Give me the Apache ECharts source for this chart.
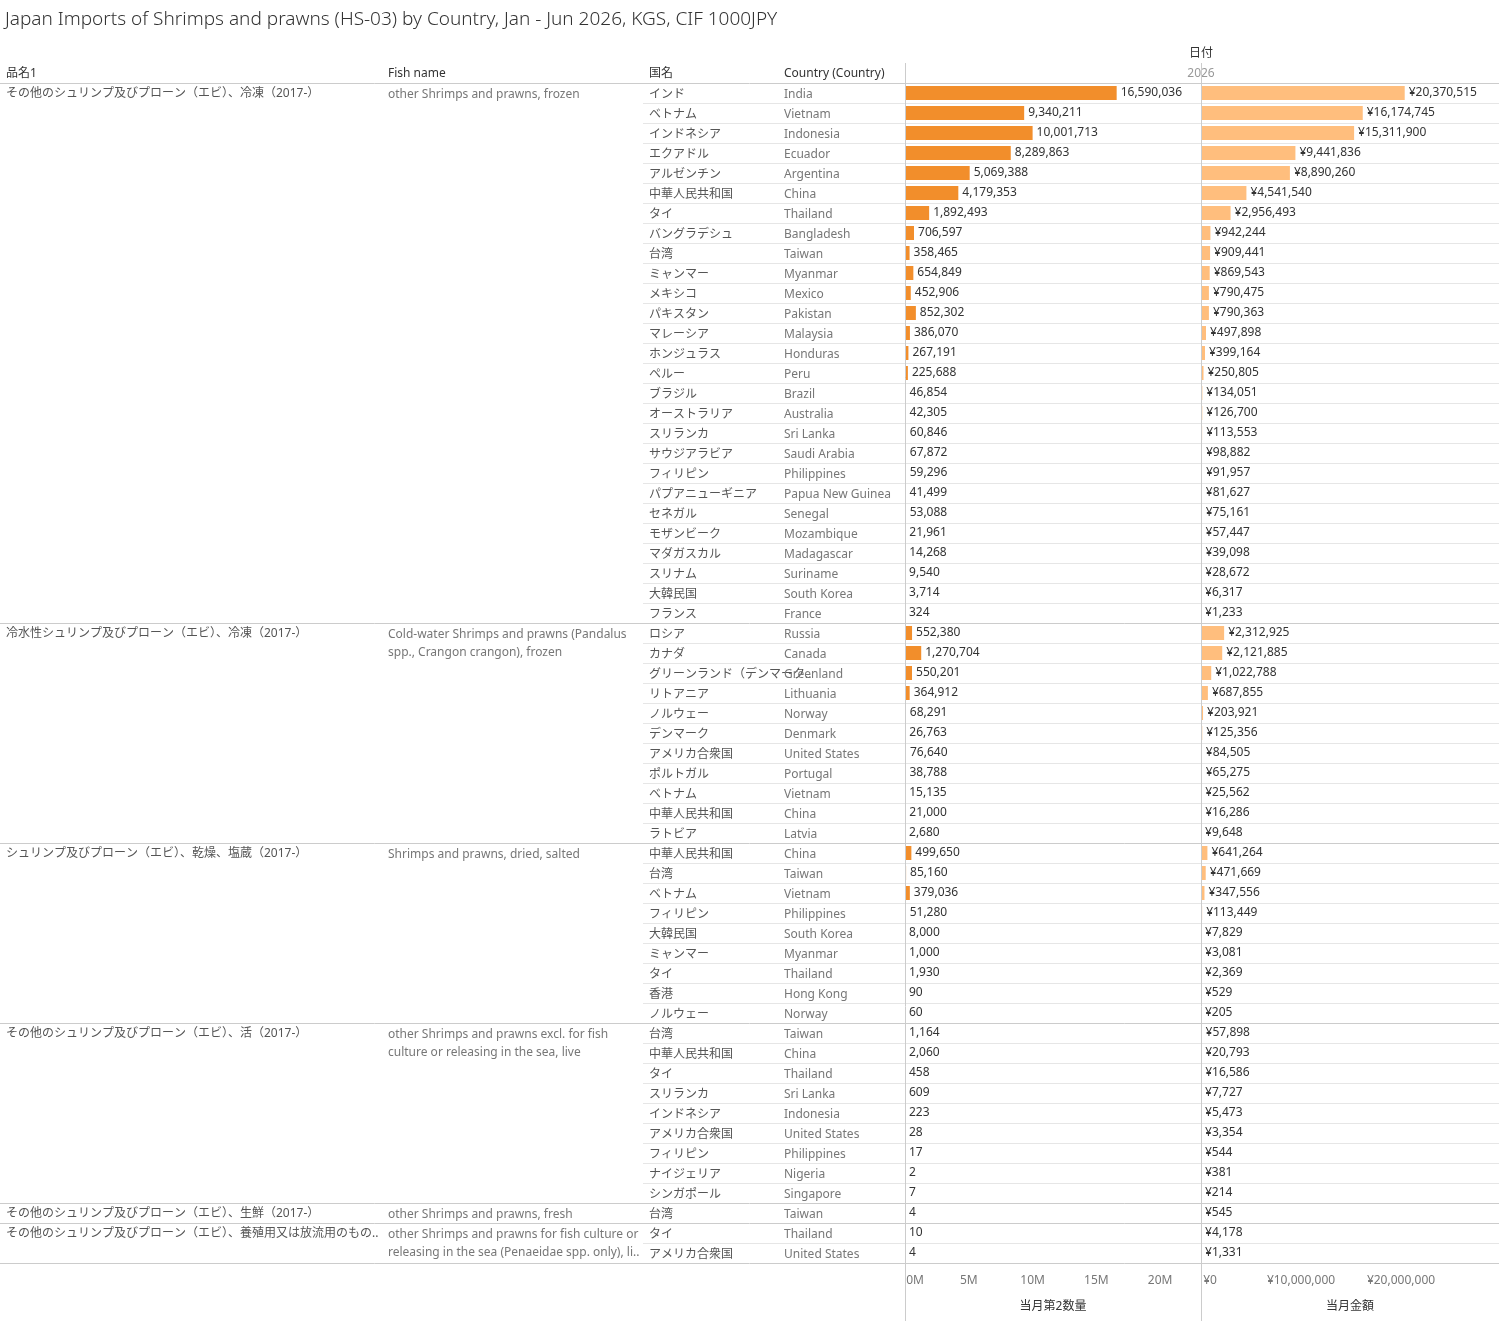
<!DOCTYPE html>
<html>
<head>
<meta charset="UTF-8">
<title>Japan Imports of Shrimps and prawns</title>
<script src="https://cdn.jsdelivr.net/npm/echarts@6/dist/echarts.min.js"></script>
<style>body{margin:0;background:#fff}#main{width:1499px;height:1321px}</style>
</head>
<body>
<div id="main"></div>
<script>
// groups: 品名1, fish name, number of rows
var groupJp = ['その他のシュリンプ及びプローン（エビ）、冷凍（2017-）', '冷水性シュリンプ及びプローン（エビ）、冷凍（2017-）', 'シュリンプ及びプローン（エビ）、乾燥、塩蔵（2017-）', 'その他のシュリンプ及びプローン（エビ）、活（2017-）', 'その他のシュリンプ及びプローン（エビ）、生鮮（2017-）', 'その他のシュリンプ及びプローン（エビ）、養殖用又は放流用のもの（クルマエ..'];
var groupEn = ['other Shrimps and prawns, frozen', 'Cold-water Shrimps and prawns (Pandalus\nspp., Crangon crangon), frozen', 'Shrimps and prawns, dried, salted', 'other Shrimps and prawns excl. for fish\nculture or releasing in the sea, live', 'other Shrimps and prawns, fresh', 'other Shrimps and prawns for fish culture or\nreleasing in the sea (Penaeidae spp. only), li..'];
var groupSize = [27, 11, 9, 9, 1, 2];

var countryJp = ['インド','ベトナム','インドネシア','エクアドル','アルゼンチン','中華人民共和国','タイ','バングラデシュ','台湾','ミャンマー','メキシコ','パキスタン','マレーシア','ホンジュラス','ペルー','ブラジル','オーストラリア','スリランカ','サウジアラビア','フィリピン','パプアニューギニア','セネガル','モザンビーク','マダガスカル','スリナム','大韓民国','フランス',
  'ロシア','カナダ','グリーンランド（デンマーク..','リトアニア','ノルウェー','デンマーク','アメリカ合衆国','ポルトガル','ベトナム','中華人民共和国','ラトビア',
  '中華人民共和国','台湾','ベトナム','フィリピン','大韓民国','ミャンマー','タイ','香港','ノルウェー',
  '台湾','中華人民共和国','タイ','スリランカ','インドネシア','アメリカ合衆国','フィリピン','ナイジェリア','シンガポール',
  '台湾','タイ','アメリカ合衆国'];
var countryEn = ['India','Vietnam','Indonesia','Ecuador','Argentina','China','Thailand','Bangladesh','Taiwan','Myanmar','Mexico','Pakistan','Malaysia','Honduras','Peru','Brazil','Australia','Sri Lanka','Saudi Arabia','Philippines','Papua New Guinea','Senegal','Mozambique','Madagascar','Suriname','South Korea','France',
  'Russia','Canada','Greenland','Lithuania','Norway','Denmark','United States','Portugal','Vietnam','China','Latvia',
  'China','Taiwan','Vietnam','Philippines','South Korea','Myanmar','Thailand','Hong Kong','Norway',
  'Taiwan','China','Thailand','Sri Lanka','Indonesia','United States','Philippines','Nigeria','Singapore',
  'Taiwan','Thailand','United States'];
var quantity = [16590036,9340211,10001713,8289863,5069388,4179353,1892493,706597,358465,654849,452906,852302,386070,267191,225688,46854,42305,60846,67872,59296,41499,53088,21961,14268,9540,3714,324,
  552380,1270704,550201,364912,68291,26763,76640,38788,15135,21000,2680,
  499650,85160,379036,51280,8000,1000,1930,90,60,
  1164,2060,458,609,223,28,17,2,7,
  4,10,4];
var amount = [20370515,16174745,15311900,9441836,8890260,4541540,2956493,942244,909441,869543,790475,790363,497898,399164,250805,134051,126700,113553,98882,91957,81627,75161,57447,39098,28672,6317,1233,
  2312925,2121885,1022788,687855,203921,125356,84505,65275,25562,16286,9648,
  641264,471669,347556,113449,7829,3081,2369,529,205,
  57898,20793,16586,7727,5473,3354,544,381,214,
  545,4178,1331];

var TOP = 83, ROW = 20, N = countryJp.length;
var FONT = '"Noto Sans", "Noto Sans CJK JP", sans-serif';
var idx = countryJp.map(function (d, i) { return String(i); });
function fmt(v) { return v.toLocaleString('en-US'); }

var chart = echarts.init(document.getElementById('main'));
var g = [];
g.push({type: 'text', left: 5, top: 10, style: {text: 'Japan Imports of Shrimps and prawns (HS-03) by Country, Jan - Jun 2026, KGS, CIF 1000JPY', font: '300 19px ' + FONT, fill: '#333'}});
function txt(x, y, t, c, extra) {
  g.push({type: 'text', x: x, y: y, style: Object.assign({text: t, font: '12px ' + FONT, fill: c, verticalAlign: 'middle'}, extra || {})});
}
txt(6, 74, '品名1', '#333'); txt(388, 74, 'Fish name', '#333'); txt(649, 74, '国名', '#333'); txt(784, 74, 'Country (Country)', '#333');
txt(1201, 54, '日付', '#333', {align: 'center'}); txt(1201, 74, '2026', '#999', {align: 'center'});
function line(x1, y1, x2, y2, c) {
  g.push({type: 'line', shape: {x1: x1, y1: y1, x2: x2, y2: y2}, style: {stroke: c, lineWidth: 1}, z: 10});
}
line(0, 83.5, 1499, 83.5, '#ccc');
var start = 0;
groupSize.forEach(function (n, k) {
  txt(6, TOP + start * ROW + 11, groupJp[k], '#555', {width: 378, overflow: 'truncate', ellipsis: '..'});
  g.push({type: 'text', x: 388, y: TOP + start * ROW + 3, style: {text: groupEn[k], font: '12px ' + FONT, fill: '#777', lineHeight: 18}});
  for (var i = 1; i < n; i++) line(643, TOP + (start + i) * ROW + 0.5, 1499, TOP + (start + i) * ROW + 0.5, '#e6e6e6');
  start += n;
  line(0, TOP + start * ROW + 0.5, 1499, TOP + start * ROW + 0.5, '#ccc');
});
line(905.5, 63, 905.5, 1321, '#ccc');
line(1201.5, 63, 1201.5, 1321, '#ccc');

function yAx(gi, show) {
  return {type: 'category', gridIndex: gi, data: idx, inverse: true, axisLine: {show: false}, axisTick: {show: false},
    axisLabel: show ? {margin: 0, align: 'right', padding: [4, 0, 0, 0], formatter: function (v) { var i = +v; return '{a|' + countryJp[i] + '}{b|' + countryEn[i] + '}'; },
      rich: {a: {width: 135, align: 'left', color: '#555', fontSize: 12, fontFamily: FONT}, b: {width: 121, align: 'left', color: '#777', fontSize: 12, fontFamily: FONT}}} : {show: false}};
}
function xAx(gi, max, interval, f, name) {
  return {type: 'value', gridIndex: gi, min: 0, max: max, interval: interval, position: 'bottom',
    axisLine: {show: false}, axisTick: {show: false}, splitLine: {show: false},
    axisLabel: {color: '#777', fontSize: 12, fontFamily: FONT, margin: 12, formatter: f, showMaxLabel: false,
      align: 'center', padding: [0, 0, 0, 0]},
    name: name, nameLocation: 'middle', nameGap: 38, nameTextStyle: {color: '#333', fontSize: 12, fontFamily: FONT}};
}
function barLabel(f) {
  return {show: true, position: 'right', distance: 4, color: '#333', fontSize: 12, fontFamily: FONT, padding: [4, 0, 0, 0], formatter: function (p) { return f(p.value); }};
}
var xa0 = xAx(0, 23200000, 5000000, function (v) { return (v / 1e6) + 'M'; }, '当月第2数量');
var xa1 = xAx(1, 29800000, 10000000, function (v) { return '¥' + fmt(v); }, '当月金額');
xa0.axisLabel.formatter = function (v) { return v === 0 ? '{l|0M}' : (v / 1e6) + 'M'; };
xa0.axisLabel.rich = {l: {padding: [0, 0, 0, 20], color: '#777', fontSize: 12}};
xa1.axisLabel.formatter = function (v) { return v === 0 ? '{l|¥0}' : '¥' + fmt(v); };
xa1.axisLabel.rich = {l: {padding: [0, 0, 0, 18], color: '#777', fontSize: 12}};
chart.setOption({
  animation: false,
  textStyle: {fontFamily: FONT},
  grid: [{left: 905, width: 296, top: TOP, height: N * ROW}, {left: 1201, width: 298, top: TOP, height: N * ROW}],
  xAxis: [xa0, xa1],
  yAxis: [yAx(0, true), yAx(1, false)],
  series: [
    {type: 'bar', xAxisIndex: 0, yAxisIndex: 0, data: quantity, barWidth: 14, itemStyle: {color: '#f28e2b'}, label: barLabel(fmt)},
    {type: 'bar', xAxisIndex: 1, yAxisIndex: 1, data: amount, barWidth: 14, itemStyle: {color: '#ffbe7d'}, label: barLabel(function (v) { return '¥' + fmt(v); })}
  ],
  graphic: g
});
</script>
</body>
</html>
